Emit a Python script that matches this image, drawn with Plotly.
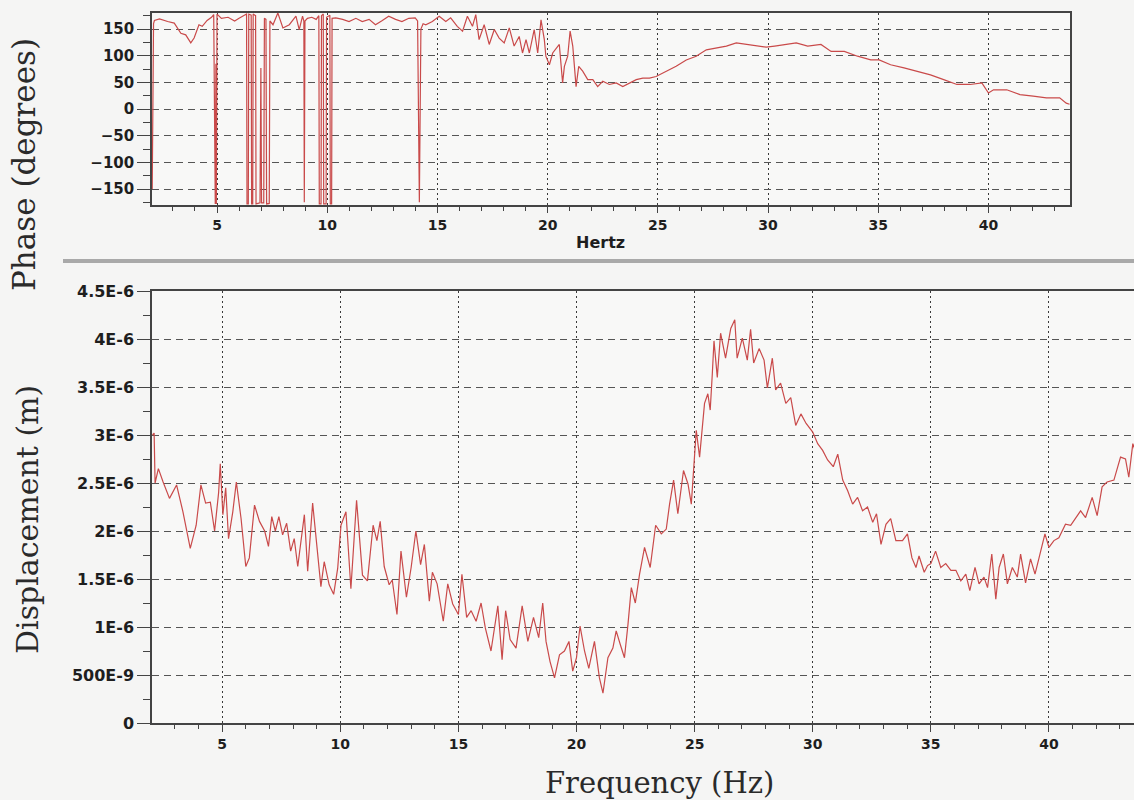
import numpy as np
import plotly.graph_objects as go

# ---------------- data ----------------
# Phase (degrees) vs frequency (Hz)
phase_freq = [2.06, 2.12, 2.16, 2.39, 2.76, 3.06, 3.36, 3.58, 3.81, 3.96, 4.18, 4.33, 4.55, 4.75,
              4.85, 4.87, 4.90, 4.92, 4.95, 4.97, 5.00, 5.20, 5.50, 5.80, 6.00, 6.20, 6.34, 6.36,
              6.42, 6.44, 6.55, 6.57, 6.62, 6.64, 6.75, 6.77, 6.95, 6.99, 7.02, 7.12, 7.15, 7.22,
              7.25, 7.37, 7.40, 7.54, 7.76, 7.99, 8.28, 8.58, 8.73, 8.88, 8.94, 8.96, 8.99, 9.10,
              9.30, 9.50, 9.62, 9.64, 9.72, 9.74, 9.82, 9.84, 9.95, 9.97, 10.12, 10.14, 10.20, 10.22,
              10.39, 10.70, 10.99, 11.30, 11.59, 11.90, 12.19, 12.50, 12.79, 13.10, 13.39, 13.70,
              13.99, 14.10, 14.15, 14.18, 14.25, 14.35, 14.47, 14.77, 15.08, 15.38, 15.60, 15.90,
              16.14, 16.36, 16.59, 16.74, 16.89, 17.12, 17.35, 17.58, 17.80, 18.03, 18.26, 18.48,
              18.71, 18.86, 19.02, 19.17, 19.39, 19.55, 19.70, 19.85, 19.92, 20.08, 20.23, 20.38,
              20.53, 20.68, 20.76, 20.91, 21.02, 21.14, 21.29, 21.41, 21.59, 21.82, 22.05, 22.27,
              22.50, 22.80, 23.11, 23.41, 23.71, 24.02, 24.32, 24.62, 24.92, 25.38, 25.83, 26.29,
              26.74, 27.20, 27.65, 28.11, 28.56, 29.02, 29.47, 29.92, 30.30, 30.75, 31.28, 31.80,
              32.40, 32.86, 33.46, 34.06, 34.66, 35.04, 35.56, 36.17, 36.77, 37.37, 37.97, 38.57,
              39.17, 39.70, 40.00, 40.23, 40.83, 41.43, 42.03, 42.63, 43.23, 43.53, 43.68]
phase_deg = [-150, 160, 166, 169, 164, 161, 142, 139, 124, 133, 158, 155, 166, 172,
             177, 0, 2, -178, 85, -178, 178, 170, 172, 165, 170, 175, 178, -178,
             -178, 178, 176, -178, -178, 178, 175, -178, -176, 77, -176, -176, 170, 168,
             -178, -177, 165, 158, 180, 152, 158, 174, 149, 174, 165, -175, 165, 170,
             172, 168, 175, -178, -178, 175, 178, -178, -178, 172, 176, -178, -178, 170,
             171, 168, 164, 170, 164, 168, 158, 166, 174, 168, 164, 170,
             171, 165, 0, -175, 150, 160, 158, 164, 174, 164, 171, 155,
             146, 174, 155, 177, 130, 158, 121, 149, 133, 124, 152, 118,
             136, 105, 130, 105, 149, 105, 167, 130, 99, 83, 105, 114,
             121, 49, 80, 99, 146, 118, 42, 80, 71, 55, 55, 42,
             52, 46, 49, 42, 49, 55, 58, 58, 61, 71, 80, 92,
             99, 111, 114, 118, 124, 121, 119, 116, 118, 121, 124, 118,
             121, 108, 108, 99, 92, 92, 83, 77, 71, 64, 55, 46,
             46, 49, 30, 36, 36, 27, 24, 21, 21, 11, 9]

# Displacement (micrometres) vs frequency (Hz)
disp_freq = [2.05, 2.12, 2.16, 2.30, 2.50, 2.77, 3.07, 3.34, 3.65, 3.90, 4.10, 4.30, 4.50, 4.68,
             4.85, 4.92, 5.03, 5.15, 5.27, 5.45, 5.60, 5.80, 6.00, 6.15, 6.37, 6.58, 6.80, 6.96,
             7.10, 7.25, 7.40, 7.56, 7.73, 7.90, 8.05, 8.20, 8.48, 8.62, 8.83, 9.04, 9.18, 9.32,
             9.53, 9.72, 9.89, 10.03, 10.24, 10.45, 10.69, 10.94, 11.15, 11.39, 11.55, 11.69,
             11.86, 12.07, 12.20, 12.40, 12.57, 12.80, 13.00, 13.20, 13.40, 13.56, 13.77, 13.90,
             14.10, 14.36, 14.55, 14.76, 15.00, 15.15, 15.35, 15.54, 15.75, 15.96, 16.14, 16.38,
             16.67, 16.85, 17.00, 17.19, 17.44, 17.70, 17.94, 18.18, 18.40, 18.57, 18.71, 18.88,
             19.07, 19.28, 19.49, 19.68, 19.84, 20.00, 20.15, 20.34, 20.52, 20.76, 20.97, 21.12,
             21.33, 21.54, 21.68, 21.85, 22.03, 22.18, 22.32, 22.49, 22.67, 22.88, 23.12, 23.35,
             23.59, 23.80, 23.94, 24.11, 24.29, 24.53, 24.72, 24.86, 25.00, 25.07, 25.21, 25.42,
             25.56, 25.66, 25.75, 25.82, 25.96, 26.10, 26.31, 26.53, 26.70, 26.80, 27.02, 27.23,
             27.37, 27.50, 27.73, 27.94, 28.08, 28.29, 28.43, 28.64, 28.86, 29.07, 29.28, 29.50,
             29.72, 30.00, 30.21, 30.42, 30.63, 30.87, 31.06, 31.27, 31.48, 31.69, 31.90, 32.11,
             32.32, 32.54, 32.70, 32.89, 33.10, 33.30, 33.52, 33.80, 34.01, 34.20, 34.37, 34.50,
             34.72, 34.86, 35.00, 35.20, 35.42, 35.63, 35.85, 36.06, 36.27, 36.48, 36.65, 36.87,
             37.04, 37.25, 37.40, 37.58, 37.75, 37.89, 38.07, 38.24, 38.45, 38.66, 38.80, 39.01,
             39.22, 39.41, 39.58, 39.83, 40.00, 40.21, 40.42, 40.70, 40.92, 41.13, 41.34, 41.55,
             41.83, 42.04, 42.25, 42.46, 42.75, 43.03, 43.24, 43.38, 43.55, 43.70]
disp_um = [3.00, 3.02, 2.50, 2.65, 2.51, 2.34, 2.48, 2.20, 1.82, 2.06, 2.48, 2.29, 2.30, 2.00,
           2.40, 2.70, 2.17, 2.45, 1.92, 2.20, 2.51, 2.13, 1.63, 1.72, 2.27, 2.10, 2.00, 1.84,
           2.15, 2.00, 2.15, 1.96, 2.08, 1.79, 1.92, 1.63, 2.17, 1.58, 2.29, 1.79, 1.42, 1.68,
           1.44, 1.34, 1.61, 2.06, 2.20, 1.40, 2.32, 1.54, 1.48, 2.06, 1.90, 2.10,
           1.63, 1.44, 1.49, 1.13, 1.79, 1.31, 1.62, 2.00, 1.65, 1.86, 1.27, 1.57,
           1.45, 1.06, 1.45, 1.24, 1.13, 1.55, 1.10, 1.17, 1.06, 1.25, 0.99, 0.75,
           1.22, 0.66, 1.17, 0.87, 0.78, 1.22, 0.85, 1.10, 0.89, 1.25, 0.85, 0.64,
           0.47, 0.71, 0.75, 0.85, 0.54, 0.68, 1.01, 0.75, 0.57, 0.85, 0.47, 0.31,
           0.68, 0.78, 0.96, 0.82, 0.68, 1.03, 1.41, 1.25, 1.55, 1.83, 1.62, 2.06,
           1.97, 2.02, 2.28, 2.53, 2.18, 2.63, 2.49, 2.28, 2.84, 3.05, 2.77, 3.33,
           3.43, 3.26, 3.64, 3.98, 3.60, 4.06, 3.80, 4.11, 4.20, 3.80, 4.01, 3.78,
           4.10, 3.75, 3.90, 3.78, 3.49, 3.80, 3.47, 3.54, 3.33, 3.39, 3.10, 3.22,
           3.12, 3.03, 2.91, 2.84, 2.74, 2.67, 2.80, 2.53, 2.42, 2.28, 2.35, 2.21,
           2.25, 2.09, 2.18, 1.86, 2.07, 2.13, 1.90, 1.90, 1.97, 1.72, 1.62, 1.74,
           1.57, 1.64, 1.66, 1.79, 1.62, 1.66, 1.59, 1.59, 1.48, 1.55, 1.38, 1.62,
           1.45, 1.52, 1.41, 1.76, 1.29, 1.62, 1.76, 1.45, 1.62, 1.52, 1.76, 1.46,
           1.71, 1.55, 1.72, 1.97, 1.83, 1.90, 1.93, 2.07, 2.06, 2.14, 2.21, 2.14,
           2.35, 2.16, 2.46, 2.51, 2.53, 2.77, 2.75, 2.56, 2.91, 2.80]

phase_ticks = [-150, -100, -50, 0, 50, 100, 150]
disp_tick_vals = [0, 0.5e-6, 1.0e-6, 1.5e-6, 2.0e-6, 2.5e-6, 3.0e-6, 3.5e-6, 4.0e-6, 4.5e-6]
disp_tick_text = ["0", "500E-9", "1E-6", "1.5E-6", "2E-6", "2.5E-6", "3E-6", "3.5E-6", "4E-6", "4.5E-6"]
freq_ticks = [5, 10, 15, 20, 25, 30, 35, 40]

disp_m = (np.array(disp_um) * 1e-6).tolist()

# ---------------- figure ----------------
W, H = 1134, 800
LINE = "#c94a4a"
GRIDC = "#3a3a3a"
XTICKFONT = dict(family="DejaVu Sans", size=14, color="#1e1e1e", weight="bold")
Y1TICKFONT = dict(family="DejaVu Sans", size=15, color="#1e1e1e", weight="bold")
Y2TICKFONT = dict(family="DejaVu Sans", size=16, color="#1e1e1e", weight="bold")
SERIF_COLOR = "#2a2a2a"

fig = go.Figure()
fig.add_trace(go.Scatter(x=phase_freq, y=phase_deg, mode="lines",
                         line=dict(color=LINE, width=1.2), xaxis="x", yaxis="y",
                         showlegend=False, hoverinfo="skip"))
fig.add_trace(go.Scatter(x=disp_freq, y=disp_m, mode="lines",
                         line=dict(color=LINE, width=1.2), xaxis="x2", yaxis="y2",
                         showlegend=False, hoverinfo="skip"))

def px_x(p):
    return p / W

def px_y(p):
    return 1 - p / H

common_x = dict(showline=True, linecolor="#444", linewidth=1.5, mirror=True,
                ticks="outside", tickcolor="#444", tickwidth=1.3,
                showgrid=True, gridcolor=GRIDC, gridwidth=1.4, griddash="2px,3px",
                tickfont=XTICKFONT, zeroline=False, automargin=False,
                tickvals=freq_ticks)
common_y = dict(showline=True, linecolor="#444", linewidth=1.5, mirror=True,
                ticks="outside", tickcolor="#444", tickwidth=1.3, ticklen=13,
                showgrid=True, gridcolor="#555", gridwidth=1.3, griddash="7px,5px",
                zeroline=False, automargin=False)

fig.update_layout(
    width=W, height=H,
    margin=dict(l=0, r=0, t=0, b=0),
    paper_bgcolor="#f5f5f4",
    plot_bgcolor="#f8f8f7",
    xaxis=dict(common_x, domain=[px_x(152), px_x(1070)], range=[2.05, 43.7],
               anchor="y", ticklen=6,
               minor=dict(dtick=1, ticks="outside", ticklen=4, tickcolor="#444", showgrid=False)),
    yaxis=dict(common_y, domain=[px_y(205), px_y(13)], range=[-180, 180],
               anchor="x", tickvals=phase_ticks, tickfont=Y1TICKFONT,
               minor=dict(dtick=25, ticks="outside", ticklen=7, tickcolor="#444", showgrid=False)),
    xaxis2=dict(common_x, domain=[px_x(152), 1.0], range=[2.03, 43.6],
                anchor="y2", ticklen=7,
                minor=dict(dtick=1, ticks="outside", ticklen=4, tickcolor="#444", showgrid=False)),
    yaxis2=dict(common_y, domain=[px_y(723), px_y(291)], range=[0, 4.5e-6],
                anchor="x2", tickvals=disp_tick_vals, ticktext=disp_tick_text,
                tickfont=Y2TICKFONT,
                minor=dict(dtick=0.25e-6, ticks="outside", ticklen=7, tickcolor="#444", showgrid=False)),
)

fig.add_shape(type="line", xref="paper", yref="paper",
              x0=px_x(63), x1=1.0, y0=px_y(261), y1=px_y(261),
              line=dict(color="#a9a9a9", width=4))

fig.add_annotation(text="Phase (degrees)", xref="paper", yref="paper",
                   x=px_x(24), y=px_y(165), textangle=-90, showarrow=False,
                   font=dict(family="DejaVu Serif", size=31, color=SERIF_COLOR),
                   xanchor="center", yanchor="middle")
fig.add_annotation(text="Displacement (m)", xref="paper", yref="paper",
                   x=px_x(27), y=px_y(520), textangle=-90, showarrow=False,
                   font=dict(family="DejaVu Serif", size=30, color=SERIF_COLOR),
                   xanchor="center", yanchor="middle")
fig.add_annotation(text="Frequency (Hz)", xref="paper", yref="paper",
                   x=px_x(659), y=px_y(783), showarrow=False,
                   font=dict(family="DejaVu Serif", size=29, color=SERIF_COLOR),
                   xanchor="center", yanchor="middle")
fig.add_annotation(text="<b>Hertz</b>", xref="paper", yref="paper",
                   x=px_x(600), y=px_y(242), showarrow=False,
                   font=dict(family="DejaVu Sans", size=16, color="#1e1e1e"),
                   xanchor="center", yanchor="middle")

fig.write_html("out.html",
               config={"displayModeBar": False},
               post_script="document.body.style.margin='0';document.body.style.padding='0';")
